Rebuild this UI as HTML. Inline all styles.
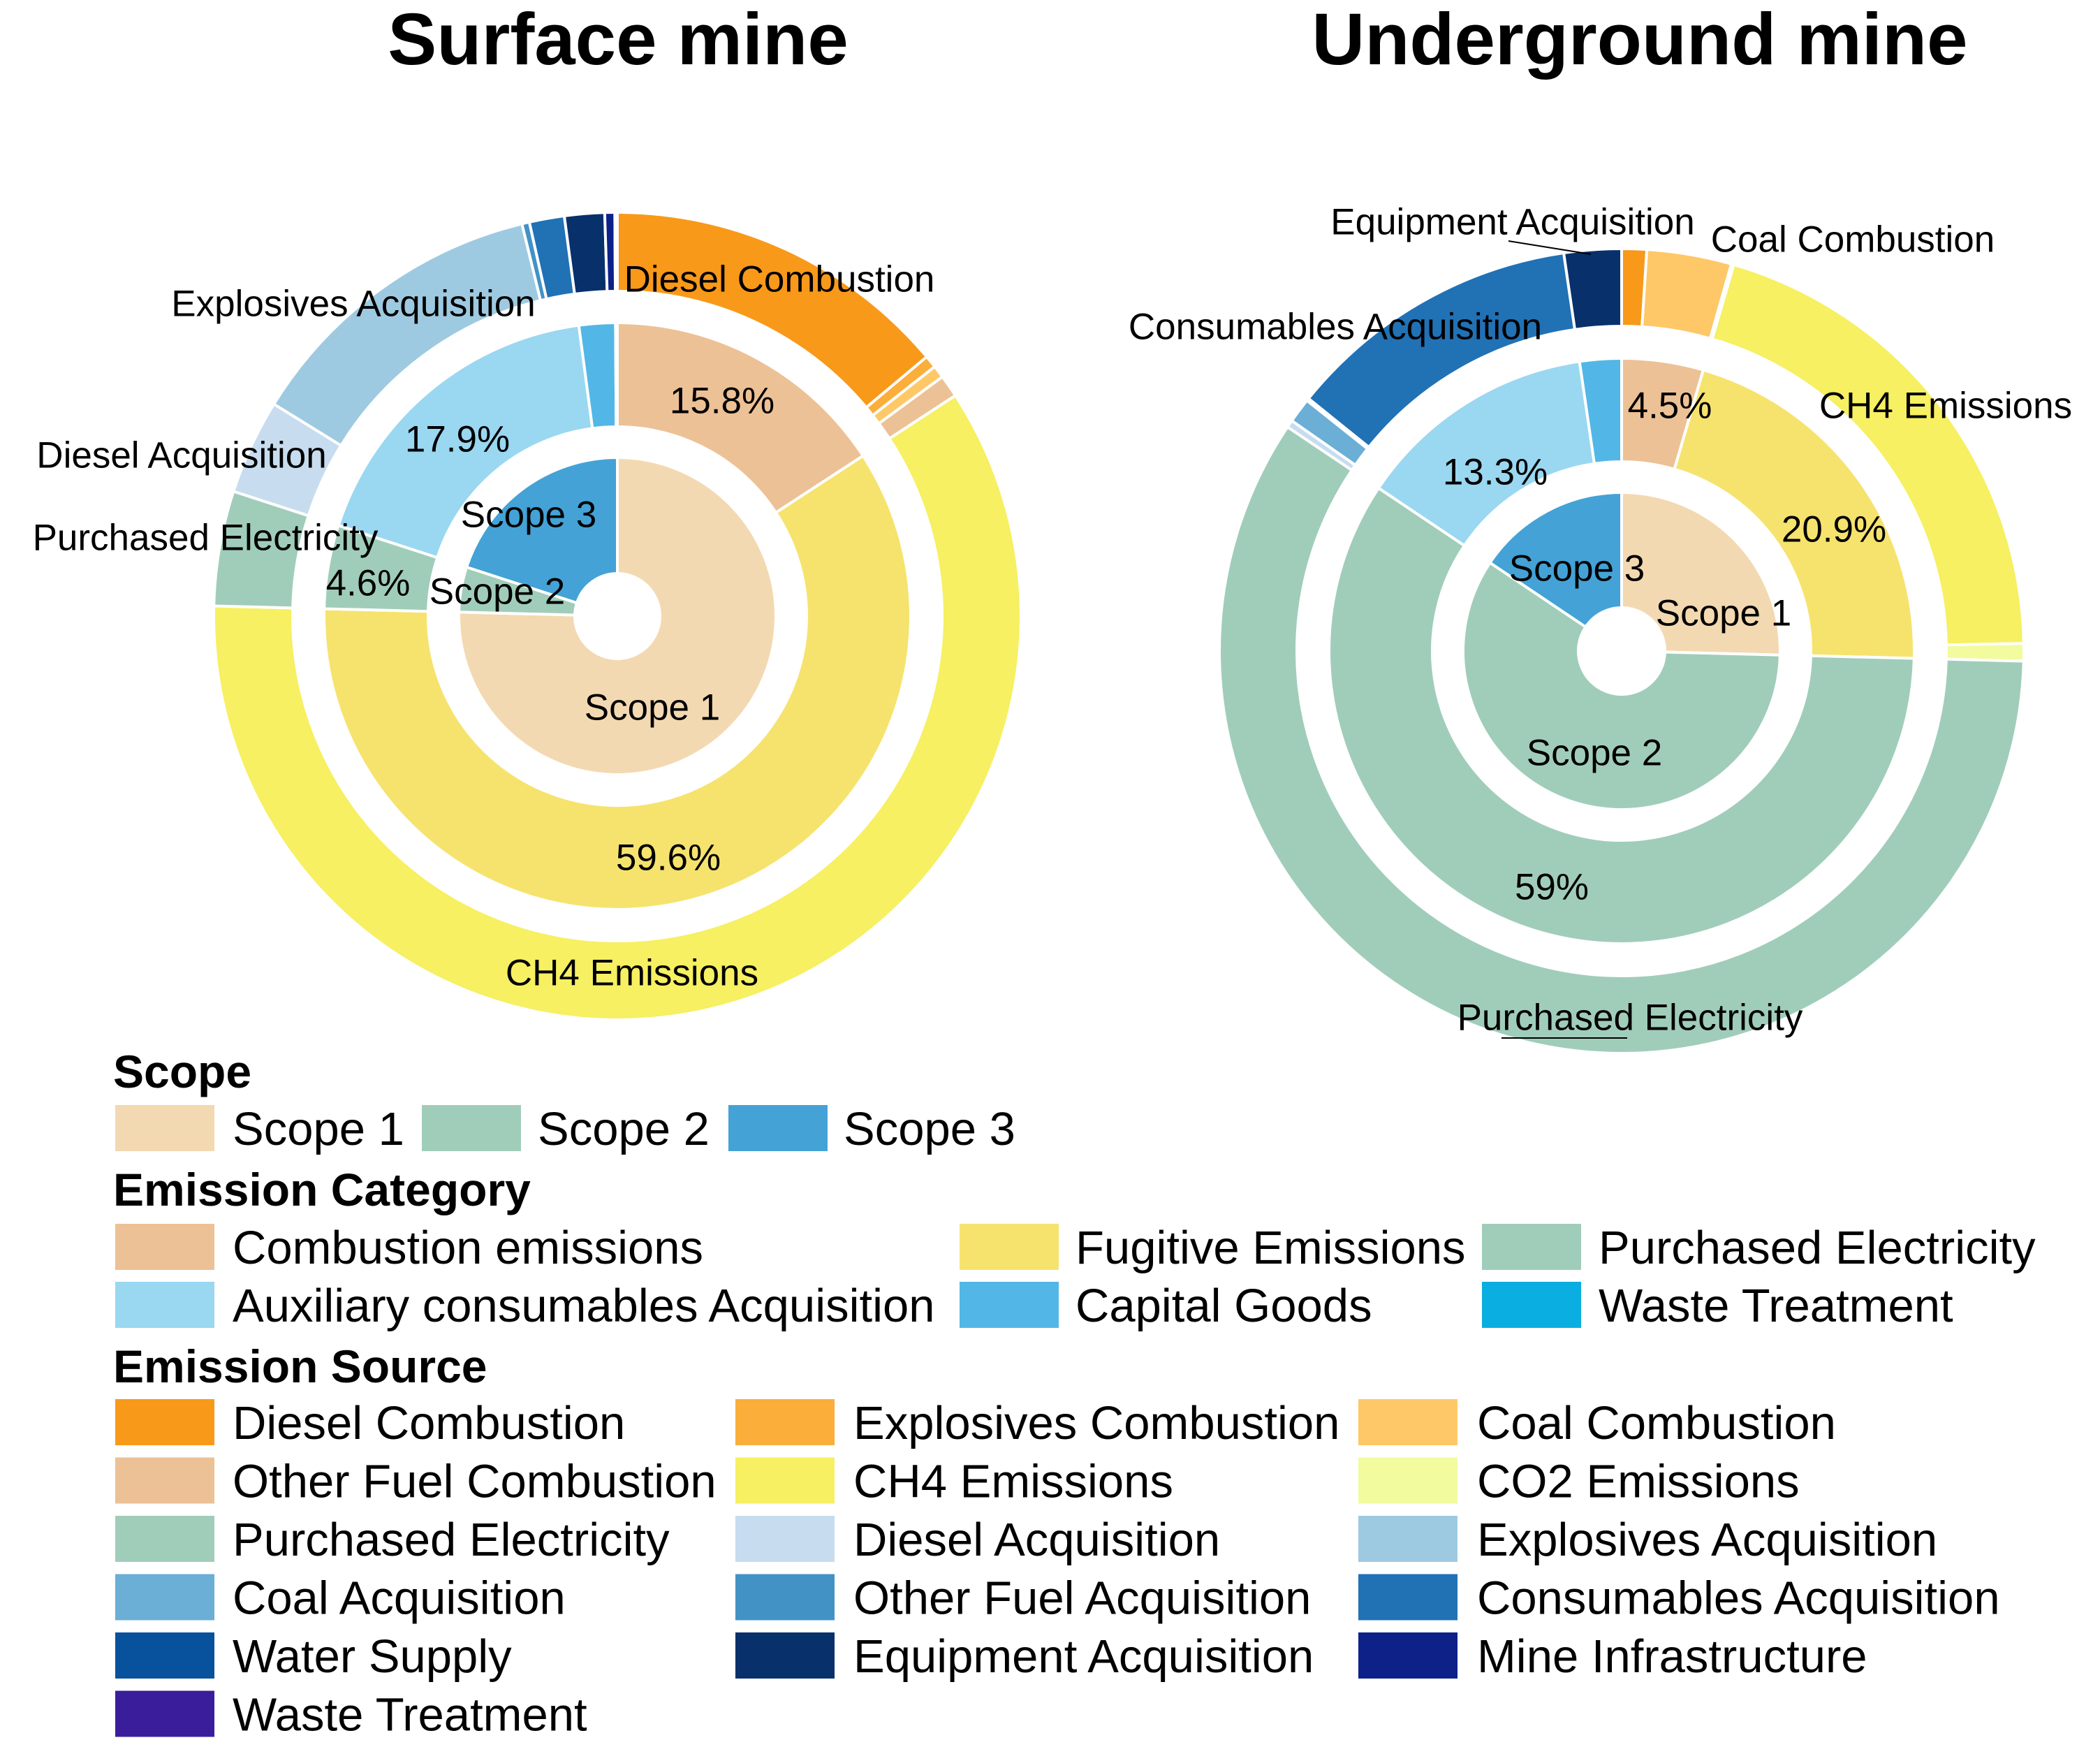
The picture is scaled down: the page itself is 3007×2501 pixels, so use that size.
<!DOCTYPE html>
<html><head><meta charset="utf-8">
<style>
html,body{margin:0;padding:0;background:#fff;}
svg{display:block;font-family:"Liberation Sans",Arial,sans-serif;}
</style></head>
<body>
<svg id="chart" width="3007" height="2501" viewBox="0 0 3007 2501" xmlns="http://www.w3.org/2000/svg">
  <rect width="3007" height="2501" fill="#fff"/>
  <text x="885" y="92" font-size="105" font-weight="bold" text-anchor="middle">Surface mine</text>
  <text x="2348" y="92" font-size="105" font-weight="bold" text-anchor="middle">Underground mine</text>
  <g id="surface"></g>
  <g id="under"></g>
  <g id="legend"></g>
</svg>
<script>
const C = {
  s1:'#f3d9b1', s2:'#a0cdb9', s3:'#44a2d6',
  comb:'#edc196', fug:'#f6e36e', pe:'#a0cdb9', aux:'#9ad7f1', cap:'#52b7e6', wt:'#0aaee0',
  dieselC:'#f8991a', explC:'#fbae3a', coalC:'#fec868', otherC:'#edc196', ch4:'#f6f062', co2:'#f2fb9e',
  peS:'#a0cdb9', dieselA:'#c7dcef', explA:'#9ecae1', coalA:'#6baed6', otherA:'#4292c6', consA:'#2171b5',
  water:'#08519c', equip:'#08306b', infra:'#0d2189', waste:'#3a1d9a'
};

const surfScopeKeys = ['s1','s2','s3'];
const surfScopeVals = [75.4, 4.6, 20.0];
const surfCatKeys = ['comb','fug','pe','aux','cap','wt'];
const surfCatVals = [15.8, 59.6, 4.6, 17.9, 2.0, 0.1];
const surfSrcKeys = ['dieselC','explC','coalC','otherC','ch4','peS','dieselA','explA','otherA','consA','equip','infra','waste'];
const surfSrcVals = [13.9, 0.5, 0.5, 0.9, 59.6, 4.6, 3.8, 12.4, 0.3, 1.4, 1.6, 0.4, 0.1];

const undScopeKeys = ['s1','s2','s3'];
const undScopeVals = [25.4, 59.0, 15.6];
const undCatKeys = ['comb','fug','pe','aux','cap'];
const undCatVals = [4.5, 20.9, 59.0, 13.3, 2.3];
const undSrcKeys = ['dieselC','coalC','otherC','ch4','co2','peS','dieselA','coalA','otherA','consA','equip'];
const undSrcVals = [1.0, 3.4, 0.1, 20.2, 0.7, 59.0, 0.3, 1.0, 0.1, 11.9, 2.3];

const NS='http://www.w3.org/2000/svg';
function mk(tag, attrs, parent){const e=document.createElementNS(NS,tag);for(const k in attrs)e.setAttribute(k,attrs[k]);parent.appendChild(e);return e;}

function pt(cx,cy,r,pct){const a=pct/100*2*Math.PI;return [cx+r*Math.sin(a), cy-r*Math.cos(a)];}
function arcPath(cx,cy,r0,r1,p0,p1){
  const large=(p1-p0)>50?1:0;
  const a=pt(cx,cy,r1,p0),b=pt(cx,cy,r1,p1),c=pt(cx,cy,r0,p1),d=pt(cx,cy,r0,p0);
  return `M${a[0]},${a[1]} A${r1},${r1} 0 ${large} 1 ${b[0]},${b[1]} L${c[0]},${c[1]} A${r0},${r0} 0 ${large} 0 ${d[0]},${d[1]} Z`;
}
function ring(g,cx,cy,r0,r1,keys,vals,prefix){
  let acc=0;
  for(let i=0;i<vals.length;i++){
    const p=mk('path',{d:arcPath(cx,cy,r0,r1,acc,acc+vals[i]),fill:C[keys[i]],stroke:'#fff','stroke-width':4},g);
    
    
    acc+=vals[i];
  }
}
function label(g,x,y,txt,size,name){
  const t=mk('text',{x:x,y:y,'font-size':size||53,'text-anchor':'middle','dominant-baseline':'central',fill:'#000'},g);
  t.textContent=txt;
  
  
}

(function(){
  const g=document.getElementById('surface'),cx=884,cy=882;
  ring(g,cx,cy,61,227,surfScopeKeys,surfScopeVals,'surface-scope');
  ring(g,cx,cy,271,420,surfCatKeys,surfCatVals,'surface-category');
  ring(g,cx,cy,465,578,surfSrcKeys,surfSrcVals,'surface-source');
  label(g,1116,400,'Diesel Combustion',53,'label-diesel-combustion');
  label(g,506,435,'Explosives Acquisition',53,'label-explosives-acquisition');
  label(g,260,652,'Diesel Acquisition',53,'label-diesel-acquisition');
  label(g,294,770,'Purchased Electricity',53,'label-purchased-electricity');
  label(g,905,1393,'CH4 Emissions',53,'label-ch4-emissions');
  label(g,1034,574,'15.8%',53,'pct-combustion');
  label(g,655,629,'17.9%',53,'pct-auxiliary');
  label(g,527,835,'4.6%',53,'pct-purchased');
  label(g,957,1228,'59.6%',53,'pct-fugitive');
  label(g,757,737,'Scope 3',53,'label-scope-3');
  label(g,712,847,'Scope 2',53,'label-scope-2');
  label(g,934,1013,'Scope 1',53,'label-scope-1');
})();

(function(){
  const g=document.getElementById('under'),cx=2322,cy=932;
  ring(g,cx,cy,62,227,undScopeKeys,undScopeVals,'underground-scope');
  ring(g,cx,cy,271,419,undCatKeys,undCatVals,'underground-category');
  ring(g,cx,cy,465,576,undSrcKeys,undSrcVals,'underground-source');
  mk('line',{x1:2160,y1:345,x2:2278,y2:364,stroke:'#000','stroke-width':2},g);
  mk('line',{x1:2150,y1:1486,x2:2330,y2:1486,stroke:'#000','stroke-width':2},g);
  label(g,2166,318,'Equipment Acquisition',53,'label-equipment-acquisition');
  label(g,2653,343,'Coal Combustion',53,'label-coal-combustion');
  label(g,1912,468,'Consumables Acquisition',53,'label-consumables-acquisition');
  label(g,2786,581,'CH4 Emissions',53,'label-ch4-emissions');
  label(g,2391,581,'4.5%',53,'pct-combustion');
  label(g,2141,676,'13.3%',53,'pct-auxiliary');
  label(g,2626,758,'20.9%',53,'pct-fugitive');
  label(g,2258,814,'Scope 3',53,'label-scope-3');
  label(g,2468,878,'Scope 1',53,'label-scope-1');
  label(g,2283,1078,'Scope 2',53,'label-scope-2');
  label(g,2222,1270,'59%',53,'pct-purchased');
  label(g,2334,1457,'Purchased Electricity',53,'label-purchased-electricity');
})();

(function(){
  const g=document.getElementById('legend');
  function title(x,y,t,n){const e=mk('text',{x:x,y:y,'font-size':66,'font-weight':'bold'},g);e.textContent=t;
    
    }
  function item(sx,tx,top,color,t,n){
    const r=mk('rect',{x:sx,y:top,width:142,height:66,fill:color},g);
    
    
    const e=mk('text',{x:tx,y:top+57,'font-size':67},g);e.textContent=t;
    
    
  }
  title(162,1557,'Scope','legend-scope-title');
  item(165,333,1582,C.s1,'Scope 1','legend-scope-1');
  item(604,770,1582,C.s2,'Scope 2','legend-scope-2');
  item(1043,1208,1582,C.s3,'Scope 3','legend-scope-3');
  title(162,1726,'Emission Category','legend-category-title');
  item(165,333,1752,C.comb,'Combustion emissions','legend-combustion-emissions');
  item(1374,1540,1752,C.fug,'Fugitive Emissions','legend-fugitive-emissions');
  item(2122,2289,1752,C.pe,'Purchased Electricity','legend-category-purchased-electricity');
  item(165,333,1835,C.aux,'Auxiliary consumables Acquisition','legend-auxiliary-consumables');
  item(1374,1540,1835,C.cap,'Capital Goods','legend-capital-goods');
  item(2122,2289,1835,C.wt,'Waste Treatment','legend-category-waste-treatment');
  title(162,1979,'Emission Source','legend-source-title');
  const rows=[
    [['dieselC','Diesel Combustion'],['explC','Explosives Combustion'],['coalC','Coal Combustion']],
    [['otherC','Other Fuel Combustion'],['ch4','CH4 Emissions'],['co2','CO2 Emissions']],
    [['peS','Purchased Electricity'],['dieselA','Diesel Acquisition'],['explA','Explosives Acquisition']],
    [['coalA','Coal Acquisition'],['otherA','Other Fuel Acquisition'],['consA','Consumables Acquisition']],
    [['water','Water Supply'],['equip','Equipment Acquisition'],['infra','Mine Infrastructure']],
    [['waste','Waste Treatment']]
  ];
  const sx=[165,1053,1945], tx=[333,1222,2115];
  rows.forEach((row,ri)=>{row.forEach((it,ci)=>{
    item(sx[ci],tx[ci],2003+ri*83.5,C[it[0]],it[1],'legend-source-'+it[1].toLowerCase().replace(/ /g,'-'));
  });});
})();
</script>
</body></html>
